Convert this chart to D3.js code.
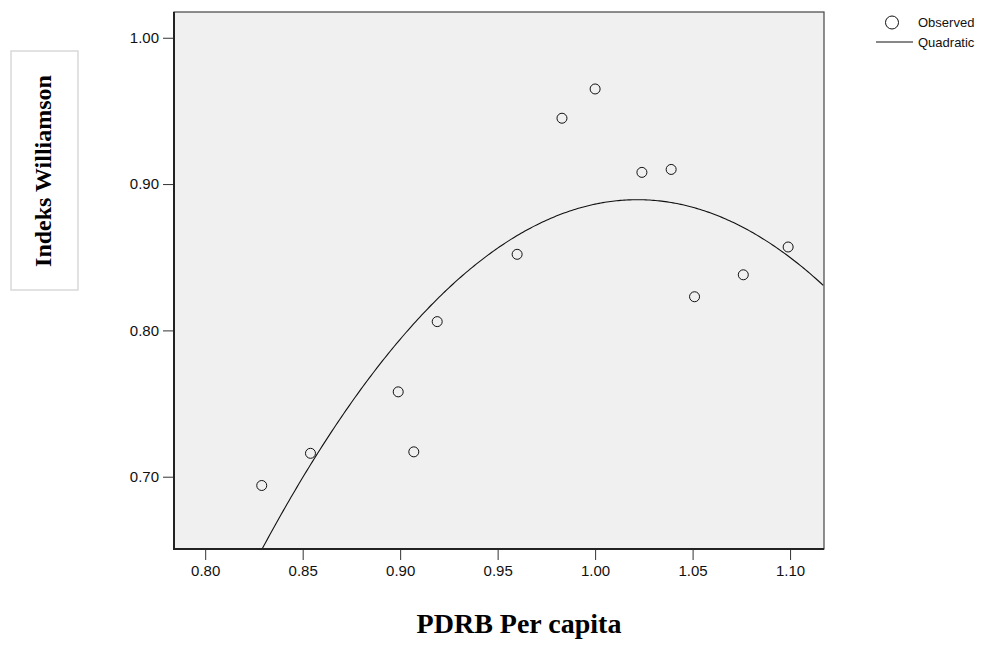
<!DOCTYPE html>
<html>
<head>
<meta charset="utf-8">
<script src="https://cdn.jsdelivr.net/npm/d3@7"></script>
<style>
  body { margin: 0; background: #fff; }
  svg { display: block; }
</style>
</head>
<body>
<svg id="chart" width="990" height="646"></svg>
<script>
// observed points
const pdrb = [0.829, 0.854, 0.899, 0.907, 0.919, 0.960, 0.983, 1.000, 1.024, 1.039, 1.051, 1.076, 1.099];
const williamson = [0.694, 0.716, 0.758, 0.717, 0.806, 0.852, 0.945, 0.965, 0.908, 0.910, 0.823, 0.838, 0.857];
const xTicks = [0.80, 0.85, 0.90, 0.95, 1.00, 1.05, 1.10];
const yTicks = [0.70, 0.80, 0.90, 1.00];
const legendLabels = ["Observed", "Quadratic"];

const svg = d3.select("#chart");
const plotL = 174, plotR = 824, plotT = 12, plotB = 549;

const x = d3.scaleLinear().domain([0.784, 1.1174]).range([plotL, plotR]);
const y = d3.scaleLinear().domain([0.6506, 1.0176]).range([plotB, plotT]);

// least squares quadratic fit y = b0 + b1 x + b2 x^2
function quadFit(xs, ys) {
    let S = [[0, 0, 0], [0, 0, 0], [0, 0, 0]], T = [0, 0, 0];
    xs.forEach((xv, i) => {
        const p = [1, xv, xv * xv];
        for (let r = 0; r < 3; r++) {
            T[r] += p[r] * ys[i];
            for (let c = 0; c < 3; c++) S[r][c] += p[r] * p[c];
        }
    });
    // gaussian elimination
    for (let k = 0; k < 3; k++) {
        for (let r = k + 1; r < 3; r++) {
            const f = S[r][k] / S[k][k];
            for (let c = k; c < 3; c++) S[r][c] -= f * S[k][c];
            T[r] -= f * T[k];
        }
    }
    const b = [0, 0, 0];
    for (let k = 2; k >= 0; k--) {
        let s = T[k];
        for (let c = k + 1; c < 3; c++) s -= S[k][c] * b[c];
        b[k] = s / S[k][k];
    }
    return b;
}
const coef = quadFit(pdrb, williamson);

// plot background
svg.append("rect")
    .attr("x", plotL).attr("y", plotT)
    .attr("width", plotR - plotL).attr("height", plotB - plotT)
    .attr("fill", "#f0f0f0")
    .attr("stroke", "#444").attr("stroke-width", 1.2);

svg.append("clipPath").attr("id", "plotclip")
    .append("rect").attr("x", plotL).attr("y", plotT)
    .attr("width", plotR - plotL).attr("height", plotB - plotT);

// fitted curve
const curveX = d3.range(x.domain()[0], x.domain()[1] + 0.0005, 0.001);
svg.append("path")
    .attr("clip-path", "url(#plotclip)")
    .attr("d", d3.line()
        .x(d => x(d))
        .y(d => y(coef[0] + coef[1] * d + coef[2] * d * d))(curveX))
    .attr("fill", "none")
    .attr("stroke", "#111")
    .attr("stroke-width", 1.1);

// observed points
svg.selectAll("circle.obs")
    .data(pdrb)
    .enter().append("circle")
    .attr("class", "obs")
    .attr("cx", d => x(d))
    .attr("cy", (d, i) => y(williamson[i]))
    .attr("r", 5)
    .attr("fill", "none")
    .attr("stroke", "#111")
    .attr("stroke-width", 1);

// axes
const xAxis = svg.append("g")
    .attr("transform", `translate(0,${plotB})`)
    .call(d3.axisBottom(x).tickValues(xTicks).tickFormat(d3.format(".2f")).tickSize(11).tickPadding(5));
const yAxis = svg.append("g")
    .attr("transform", `translate(${plotL},0)`)
    .call(d3.axisLeft(y).tickValues(yTicks).tickFormat(d3.format(".2f")).tickSize(11).tickPadding(4));

[xAxis, yAxis].forEach(g => {
    g.attr("font-size", 15).attr("font-family", "Liberation Sans, Arial, sans-serif");
    g.select(".domain").remove();
    g.selectAll("line").attr("stroke", "#333");
    g.selectAll("text").attr("fill", "#111");
});

// heavier left and bottom frame edges
svg.append("line").attr("x1", plotL).attr("x2", plotL).attr("y1", plotT).attr("y2", plotB + 1)
    .attr("stroke", "#222").attr("stroke-width", 2);
svg.append("line").attr("x1", plotL).attr("x2", plotR).attr("y1", plotB).attr("y2", plotB)
    .attr("stroke", "#222").attr("stroke-width", 2);

// y axis title in a box
svg.append("rect")
    .attr("x", 11).attr("y", 51).attr("width", 67).attr("height", 239)
    .attr("fill", "#fff").attr("stroke", "#d9d9d9").attr("stroke-width", 1.5);
svg.append("text")
    .attr("transform", "translate(51,171) rotate(-90)")
    .attr("text-anchor", "middle")
    .attr("font-family", "Liberation Serif, Times New Roman, serif")
    .attr("font-weight", "bold")
    .attr("font-size", 24)
    .text("Indeks Williamson");

// x axis title
svg.append("text")
    .attr("x", 519).attr("y", 633)
    .attr("text-anchor", "middle")
    .attr("font-family", "Liberation Serif, Times New Roman, serif")
    .attr("font-weight", "bold")
    .attr("font-size", 28)
    .text("PDRB Per capita");

// legend
const legend = svg.append("g").attr("font-family", "Liberation Sans, Arial, sans-serif").attr("font-size", 13);
legend.append("circle").attr("cx", 892).attr("cy", 22.5).attr("r", 6.5)
    .attr("fill", "none").attr("stroke", "#111").attr("stroke-width", 1);
legend.append("line").attr("x1", 876).attr("x2", 913).attr("y1", 42).attr("y2", 42)
    .attr("stroke", "#111").attr("stroke-width", 1);
legend.selectAll("text.lg")
    .data(legendLabels)
    .enter().append("text")
    .attr("class", "lg")
    .attr("x", 918)
    .attr("y", (d, i) => 27 + i * 19.5)
    .attr("fill", "#111")
    .text(d => d);
</script>
</body>
</html>
